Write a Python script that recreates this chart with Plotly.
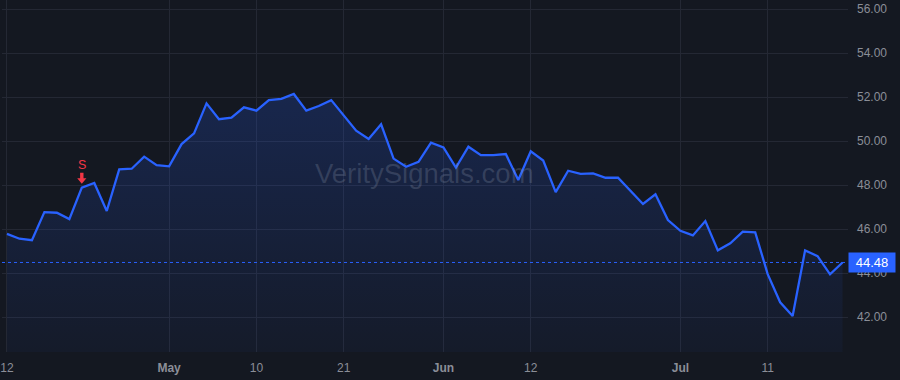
import pandas as pd
import plotly.graph_objects as go

# ---- data ----
holidays = ["2024-05-27", "2024-06-19", "2024-07-04"]
dates = [d.strftime("%Y-%m-%d") for d in pd.bdate_range("2024-04-12", "2024-07-19")
         if d.strftime("%Y-%m-%d") not in holidays]

prices = [45.78, 45.56, 45.49, 46.77, 46.74, 46.45, 47.88, 48.09, 46.82, 48.71,
          48.74, 49.29, 48.90, 48.85, 49.86, 50.35, 51.71, 50.99, 51.06, 51.53,
          51.38, 51.86, 51.92, 52.14, 51.38, 51.59, 51.86, 51.17, 50.47, 50.09,
          50.76, 49.20, 48.83, 49.05, 49.93, 49.71, 48.79, 49.74, 49.36, 49.36,
          49.41, 48.23, 49.53, 49.11, 47.68, 48.65, 48.51, 48.53, 48.33, 48.33,
          47.74, 47.14, 47.58, 46.41, 45.92, 45.71, 46.36, 45.03, 45.35, 45.88,
          45.85, 43.95, 42.67, 42.05, 45.03, 44.77, 43.94, 44.48]

tick_dates = ["2024-04-12", "2024-05-01", "2024-05-10", "2024-05-21",
              "2024-06-03", "2024-06-12", "2024-07-01", "2024-07-11"]
tick_labels = ["12", "<b>May</b>", "10", "21", "<b>Jun</b>", "12", "<b>Jul</b>", "11"]

signal_date = "2024-04-22"
signal_label = "S"
last_price = prices[-1]
watermark = "VeritySignals.com"

# ---- style ----
BG = "#141821"
GRID = "#242834"
BLUE = "#2962ff"
TXT = "#8b8e98"
RED = "#f23645"

sig_val = prices[dates.index(signal_date)]

fig = go.Figure()
fig.add_trace(go.Scatter(
    x=dates, y=prices, mode="lines",
    line=dict(color=BLUE, width=2.3),
    fill="tozeroy",
    fillgradient=dict(type="vertical", start=52.3, stop=40.4,
                      colorscale=[[0, "rgba(41,98,255,0.20)"], [1, "rgba(41,98,255,0.04)"]]),
    hoverinfo="x+y", showlegend=False,
))

fig.add_shape(type="line", xref="paper", x0=0, x1=1, yref="y", y0=last_price, y1=last_price,
              line=dict(color=BLUE, width=1, dash="dot"))

fig.add_annotation(xref="paper", x=1.0, xanchor="left", yref="y", y=last_price,
                   text=f"{last_price:.2f}", showarrow=False,
                   font=dict(color="white", size=13, family="Arial"),
                   bgcolor=BLUE, borderpad=2, width=42, height=15, align="center")

fig.add_annotation(xref="paper", x=0.499, yref="paper", y=0.508, text=watermark,
                   showarrow=False, font=dict(size=27.5, color="rgba(160,170,190,0.22)", family="Arial"))

# signal marker: down arrow drawn in pixel units anchored at the signal point
fig.add_shape(type="path", xref="x", yref="y",
              xsizemode="pixel", ysizemode="pixel",
              xanchor=signal_date, yanchor=sig_val,
              path="M -1.7,15 L 1.7,15 L 1.7,9.5 L 4.6,9.5 L 0,4 L -4.6,9.5 L -1.7,9.5 Z",
              fillcolor=RED, line=dict(width=0), layer="above")
fig.add_annotation(x=signal_date, y=sig_val, text=signal_label, showarrow=False,
                   yshift=23, font=dict(color=RED, size=12.5, family="Arial"))

fig.update_layout(
    width=900, height=380,
    margin=dict(l=0, r=52, t=0, b=28),
    paper_bgcolor=BG, plot_bgcolor=BG,
    font=dict(family="Arial", color=TXT, size=12),
    xaxis=dict(type="category", range=[-0.4, 67.44], tickmode="array",
               tickvals=tick_dates, ticktext=tick_labels, showgrid=True,
               gridcolor=GRID, gridwidth=1, zeroline=False, showline=False,
               ticks="", ticklabelstandoff=7, tickfont=dict(color=TXT, size=12)),
    yaxis=dict(side="right", range=[40.41, 56.41], dtick=2, tick0=0, tickformat=".2f",
               showgrid=True, gridcolor=GRID, zeroline=False, showline=False,
               ticks="", ticklabelstandoff=8, tickfont=dict(color=TXT, size=12)),
    hovermode=False,
)

fig.write_html("out.html")
